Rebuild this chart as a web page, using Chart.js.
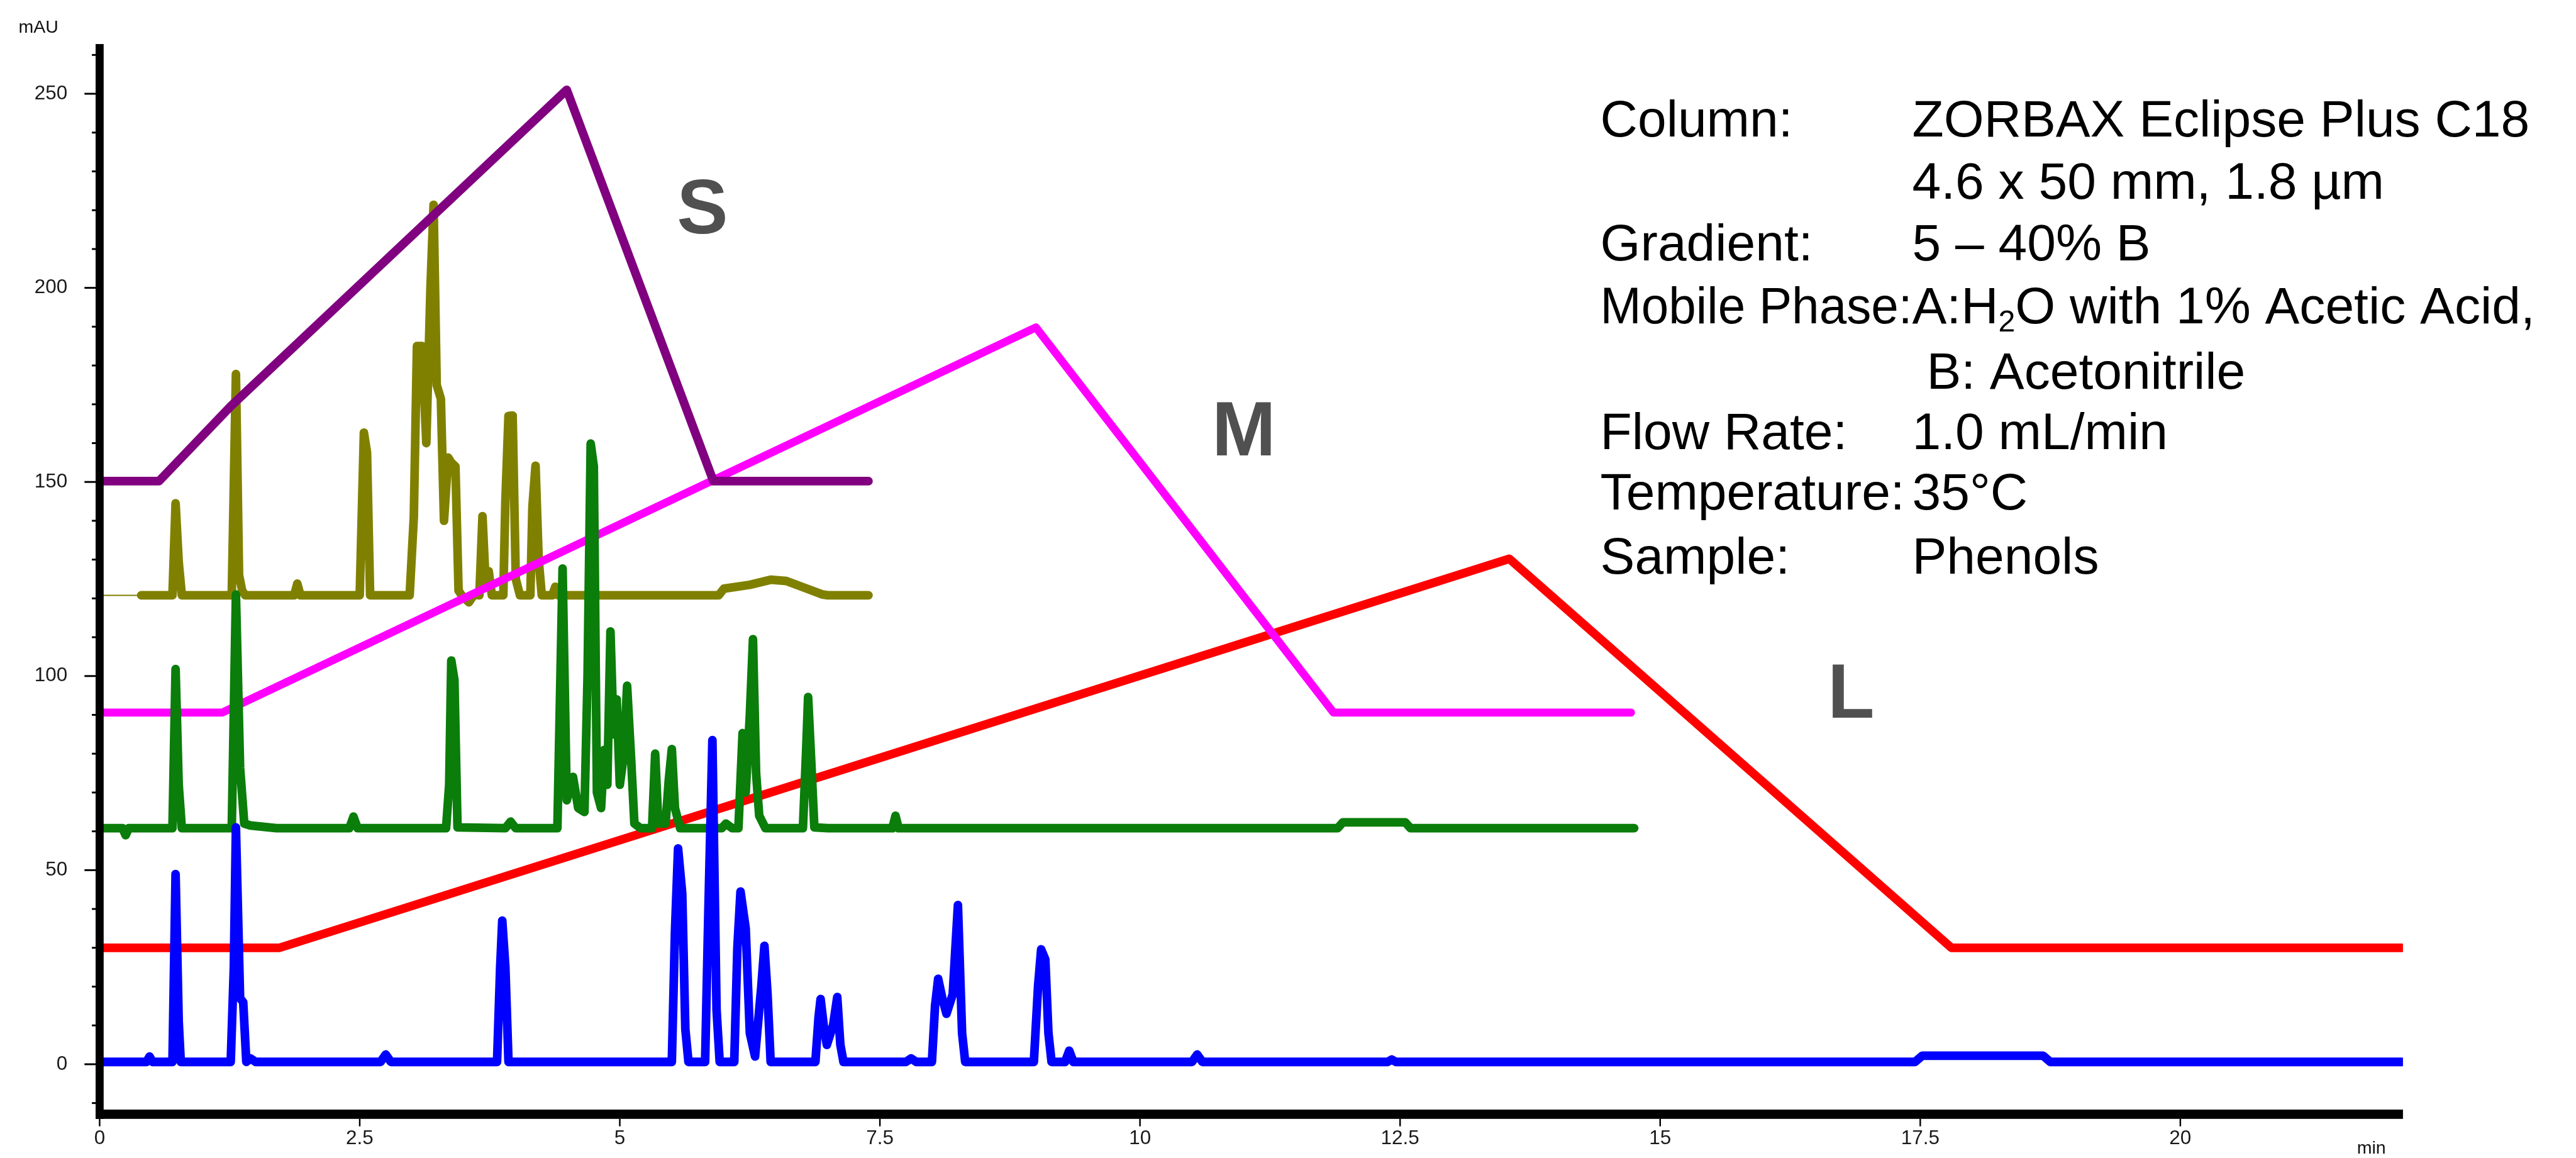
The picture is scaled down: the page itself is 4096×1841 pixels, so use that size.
<!DOCTYPE html>
<html>
<head>
<meta charset="utf-8">
<script src="https://cdn.jsdelivr.net/npm/chart.js@4.4.1/dist/chart.umd.min.js"></script>
<style>
  html, body { margin: 0; padding: 0; background: #fff; }
  canvas { display: block; }
</style>
</head>
<body>
<canvas id="chrom" width="4096" height="1841"></canvas>
<script>
// overall drawing scale
const S = 0.984;

// axis ticks
const xTicks = [0, 2.5, 5, 7.5, 10, 12.5, 15, 17.5, 20];
const yTicks = [0, 50, 100, 150, 200, 250];

// L column: chromatogram (blue) and gradient (red)
const lTime = [0, 0.45, 0.48, 0.51, 0.70, 0.73, 0.76, 0.78, 1.26, 1.29, 1.31, 1.35, 1.38, 1.41, 1.45, 1.50,
  2.70, 2.75, 2.80, 3.82, 3.85, 3.87, 3.90, 3.93, 5.50, 5.53, 5.56, 5.60, 5.63, 5.66, 5.82, 5.85, 5.89, 5.93, 5.96,
  6.10, 6.13, 6.16, 6.21, 6.25, 6.30, 6.36, 6.39, 6.42, 6.45, 6.88, 6.91, 6.93, 6.96, 6.99, 7.05, 7.09, 7.12, 7.15,
  7.75, 7.80, 7.85, 8.00, 8.03, 8.06, 8.10, 8.14, 8.20, 8.25, 8.29, 8.32, 8.98, 9.02, 9.05, 9.09, 9.12, 9.15,
  9.28, 9.32, 9.36, 10.50, 10.55, 10.60, 12.38, 12.42, 12.46, 17.45, 17.52, 18.68, 18.75, 22.13];
const lAbs = [0.6, 0.6, 2, 0.6, 0.6, 49, 11, 0.6, 0.6, 25, 61, 17, 16, 0.6, 1.5, 0.6,
  0.6, 2.5, 0.6, 0.6, 25, 37, 25, 0.6, 0.6, 34, 55.6, 44, 9, 0.6, 0.6, 38, 83.5, 14, 0.6,
  0.6, 30, 44.5, 35, 8, 2, 20, 30.5, 18, 0.6, 0.6, 12, 16.8, 10, 5, 10, 17.3, 5, 0.6,
  0.6, 1.5, 0.6, 0.6, 15, 22, 17, 13, 18, 41, 8, 0.6, 0.6, 20, 29.6, 27, 8, 0.6,
  0.6, 3.5, 0.6, 0.6, 2.5, 0.6, 0.6, 1.2, 0.6, 0.6, 2.2, 2.2, 0.6, 0.6];
const lGradTime = [0, 1.73, 13.55, 17.8, 22.13];
const lGradAbs = [30, 30, 130.2, 30, 30];

// M column: chromatogram (green) and gradient (magenta)
const mTime = [0, 0.22, 0.25, 0.28, 0.70, 0.73, 0.76, 0.79, 1.27, 1.31, 1.35, 1.39, 1.45, 1.70,
  2.40, 2.44, 2.48, 3.33, 3.36, 3.38, 3.41, 3.44, 3.90, 3.95, 4.00,
  4.40, 4.45, 4.49, 4.55, 4.60, 4.66, 4.69, 4.72, 4.75, 4.78, 4.82, 4.85, 4.88, 4.91, 4.94, 4.97, 5.00,
  5.04, 5.07, 5.11, 5.14, 5.20, 5.31, 5.34, 5.37, 5.44, 5.47, 5.50, 5.53, 5.58,
  5.98, 6.02, 6.08, 6.14, 6.18, 6.21, 6.25, 6.28, 6.31, 6.34, 6.40, 6.76, 6.79, 6.81, 6.84, 6.87, 7.00,
  7.62, 7.65, 7.68, 11.90, 11.95, 12.55, 12.60, 14.75];
const mAbs = [60.8, 60.8, 59, 60.8, 60.8, 101.8, 72, 60.8, 60.8, 121, 76.4, 62, 61.5, 60.8,
  60.8, 63.8, 60.8, 60.8, 72, 104, 99, 61, 60.8, 62.5, 60.8,
  60.8, 127.7, 68, 74, 66, 65, 100, 159.9, 154, 70, 66, 81, 72, 111.5, 85, 94, 72,
  80, 97.5, 78, 62, 60.8, 60.8, 80, 62, 62, 73, 81.2, 66, 60.8,
  60.8, 62, 60.8, 60.8, 85.3, 70, 90, 109.5, 75, 64, 60.8, 60.8, 80, 94.6, 78, 61, 60.8,
  60.8, 64, 60.8, 60.8, 62.3, 62.3, 60.8, 60.8];
const mGradTime = [0, 1.18, 9.0, 11.86, 14.72];
const mGradAbs = [90.6, 90.6, 189.8, 90.6, 90.6];

// S column: chromatogram (olive) and gradient (purple)
const sLeadTime = [0, 0.4];
const sLeadAbs = [120.8, 120.8];
const sTime = [0.40, 0.70, 0.73, 0.76, 0.79, 1.27, 1.31, 1.34, 1.37, 1.40, 1.87, 1.90, 1.93,
  2.50, 2.54, 2.57, 2.60, 2.98, 3.02, 3.05, 3.10, 3.14, 3.18, 3.21, 3.24, 3.28, 3.31, 3.35, 3.38, 3.42, 3.45, 3.48,
  3.55, 3.60, 3.65, 3.68, 3.71, 3.74, 3.77, 3.88, 3.90, 3.93, 3.97, 4.00, 4.04, 4.14, 4.16, 4.19, 4.22, 4.25,
  4.35, 4.38, 4.41, 5.95, 6.00, 6.25, 6.45, 6.60, 6.75, 6.95, 7.00, 7.39];
const sAbs = [120.8, 120.8, 144.5, 129.4, 120.8, 120.8, 177.8, 126, 122, 120.8, 120.8, 123.8, 120.8,
  120.8, 162.7, 157.6, 120.8, 120.8, 141, 185, 185, 160, 200, 221.4, 175, 171.4, 140, 156.3, 155, 154, 122, 120.8,
  119, 121, 120.8, 141.2, 124, 127, 120.8, 120.8, 145, 167, 167.1, 125, 120.8, 120.8, 143.6, 154.2, 130, 120.8,
  120.8, 123, 120.8, 120.8, 122.5, 123.5, 124.8, 124.5, 123, 121, 120.8, 120.8];
const sGradTime = [0, 0.57, 1.26, 4.49, 5.9, 7.39];
const sGradAbs = [150.2, 150.2, 169.5, 251, 150.2, 150.2];

const tags = ['S', 'M', 'L'];

const pts = (t, a) => t.map((x, i) => ({ x: x, y: a[i] }));

function trace(data, color, width, order) {
  return {
    data: data,
    borderColor: color,
    backgroundColor: color,
    borderWidth: width * S,
    borderJoinStyle: 'round',
    borderCapStyle: 'round',
    pointRadius: 0,
    tension: 0,
    fill: false,
    order: order
  };
}

const font = 'Liberation Sans, Arial, Helvetica, sans-serif';

// thick axis lines with major and minor ticks
const axisFrame = {
  id: 'axisFrame',
  afterDatasetsDraw(chart) {
    const ctx = chart.ctx;
    const xs = chart.scales.x, ys = chart.scales.y;
    const x0 = xs.left, yb = ys.bottom;
    ctx.save();
    ctx.fillStyle = '#000';
    ctx.fillRect(x0 - 6.5 * S, ys.top, 13 * S, yb - ys.top + 8 * S);
    ctx.fillRect(x0 - 6.5 * S, yb - 7 * S, xs.right - x0 + 6.5 * S, 15 * S);

    ctx.strokeStyle = '#000';
    ctx.lineWidth = 3 * S;
    for (let v = -10; v <= 260; v += 10) {
      const y = ys.getPixelForValue(v);
      const len = v % 50 === 0 ? 18 : 6;
      ctx.beginPath();
      ctx.moveTo(x0 - 6.5 * S - len * S, y);
      ctx.lineTo(x0 - 6.5 * S, y);
      ctx.stroke();
    }
    ctx.lineWidth = 2.5 * S;
    xTicks.forEach(v => {
      const x = xs.getPixelForValue(v);
      ctx.beginPath();
      ctx.moveTo(x, yb + 8 * S);
      ctx.lineTo(x, yb + 20 * S);
      ctx.stroke();
    });
    ctx.restore();
  }
};

// unit labels, trace tags and the method text block
const notes = {
  id: 'notes',
  afterDraw(chart) {
    const ctx = chart.ctx;
    ctx.save();
    ctx.fillStyle = '#111';
    ctx.textBaseline = 'alphabetic';
    ctx.font = (29 * S) + 'px ' + font;
    ctx.textAlign = 'left';
    ctx.fillText('mAU', 30 * S, 53 * S);
    ctx.textAlign = 'center';
    ctx.fillText('min', 3832 * S, 1864 * S);

    ctx.fillStyle = '#505050';
    ctx.font = 'bold ' + (124 * S) + 'px ' + font;
    const tagPos = [[1135, 377], [2010, 736], [2991, 1160]];
    tags.forEach((t, i) => ctx.fillText(t, tagPos[i][0] * S, tagPos[i][1] * S));

    ctx.fillStyle = '#000';
    ctx.textAlign = 'left';
    const big = 83.5 * S;
    ctx.font = big + 'px ' + font;
    const colA = 2586 * S, colB = 3090 * S;
    const rows = [
      ['Column:', 'ZORBAX Eclipse Plus C18', 221],
      ['', '4.6 x 50 mm, 1.8 µm', 321],
      ['Gradient:', '5 – 40% B', 421],
      ['Mobile Phase:', null, 522],
      ['', ' B: Acetonitrile', 628],
      ['Flow Rate:', '1.0 mL/min', 726],
      ['Temperature:', '35°C', 823],
      ['Sample:', 'Phenols', 927]
    ];
    rows.forEach(r => {
      const y = r[2] * S;
      if (r[0]) ctx.fillText(r[0], colA, y, colB - colA);
      if (r[1] !== null) {
        ctx.fillText(r[1], colB, y);
      } else {
        let x = colB;
        ctx.fillText('A:H', x, y);
        x += ctx.measureText('A:H').width;
        ctx.font = (49 * S) + 'px ' + font;
        ctx.fillText('2', x, y + 14 * S);
        x += ctx.measureText('2').width;
        ctx.font = big + 'px ' + font;
        ctx.fillText('O with 1% Acetic Acid,', x, y);
      }
    });
    ctx.restore();
  }
};

new Chart(document.getElementById('chrom'), {
  type: 'line',
  data: {
    datasets: [
      trace(pts(lTime, lAbs), '#0000ff', 14, 0),
      trace(pts(mTime, mAbs), '#0a7d0a', 14, 1),
      trace(pts(sGradTime, sGradAbs), '#800080', 14, 2),
      trace(pts(mGradTime, mGradAbs), '#ff00ff', 13, 3),
      trace(pts(sTime, sAbs), '#808000', 14, 4),
      trace(pts(sLeadTime, sLeadAbs), '#808000', 2, 5),
      trace(pts(lGradTime, lGradAbs), '#ff0000', 14, 6)
    ]
  },
  options: {
    responsive: false,
    devicePixelRatio: 1,
    animation: false,
    events: [],
    layout: { padding: { top: 23 * S, right: 4096 - 3883 * S, left: 0, bottom: 0 } },
    plugins: { legend: { display: false }, tooltip: { enabled: false } },
    scales: {
      x: {
        type: 'linear',
        min: 0,
        max: 22.14,
        grid: { display: false, drawTicks: false },
        border: { display: false },
        afterBuildTicks: s => { s.ticks = xTicks.map(v => ({ value: v })); },
        afterFit: s => { s.height = 1841 - 1812 * S; },
        ticks: {
          autoSkip: false,
          maxRotation: 0,
          padding: 21 * S,
          color: '#1a1a1a',
          font: { family: font, size: 32 * S },
          callback: v => String(v)
        }
      },
      y: {
        type: 'linear',
        min: -12.8,
        max: 262.8,
        grid: { display: false, drawTicks: false },
        border: { display: false },
        afterBuildTicks: s => { s.ticks = yTicks.map(v => ({ value: v })); },
        afterFit: s => { s.width = 161 * S; },
        ticks: {
          autoSkip: false,
          padding: 52 * S,
          color: '#1a1a1a',
          font: { family: font, size: 32 * S },
          callback: v => String(v)
        }
      }
    }
  },
  plugins: [axisFrame, notes]
});
</script>
</body>
</html>
